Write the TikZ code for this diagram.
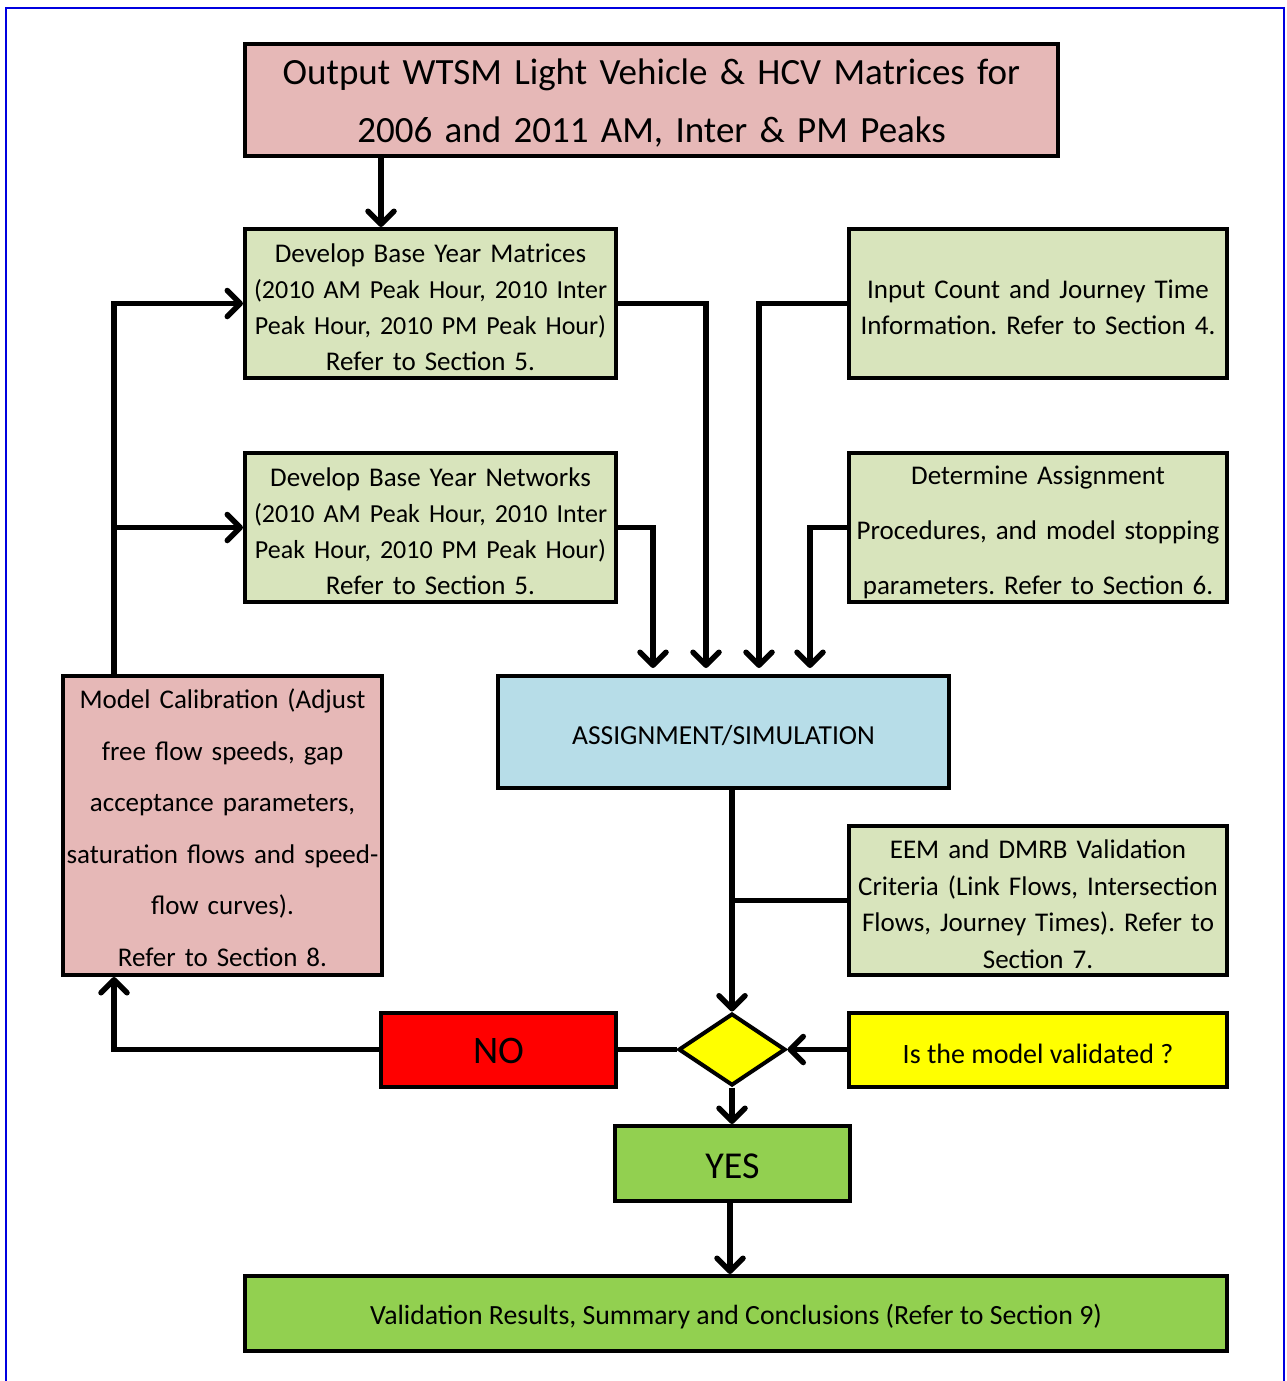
\documentclass[tikz,border=0pt]{standalone}
\usepackage{fontspec}
\setmainfont{Carlito}
\usetikzlibrary{arrows.meta,shapes.geometric}
\definecolor{pinkc}{HTML}{E6B8B7}
\definecolor{greenl}{HTML}{D8E4BC}
\definecolor{bluel}{HTML}{B7DDE8}
\definecolor{greenb}{HTML}{92D050}
\definecolor{yellowc}{HTML}{FFFF00}
\definecolor{redc}{HTML}{FF0000}
\definecolor{frameblue}{HTML}{0000E0}
\frenchspacing
\newcommand{\narrowline}[1]{{\fontsize{26}{36}\selectfont #1}}
\tikzset{
  box/.style={draw=black, line width=4pt, inner sep=0pt, align=center, anchor=center},
  bodyfont/.style={font=\fontsize{27}{36}\selectfont},
  conn/.style={line width=5.5pt, -{Straight Barb[length=13pt,width=26pt,round]}},
  plainline/.style={line width=5.5pt},
}
\begin{document}
\begin{tikzpicture}[x=1pt,y=-1pt]
\useasboundingbox (0,0) rectangle (1286,1381);
\draw[frameblue, line width=2.5pt] (6,1385) -- (6,8) -- (1284,8) -- (1284,1385);

% boxes
\node[box, fill=pinkc, minimum width=813pt, minimum height=112pt, text width=805pt, text height=31pt,
      font=\fontsize{37}{58}\selectfont] (title) at (651.5,100)
  {Output WTSM Light Vehicle \& HCV Matrices for\\2006 and 2011 AM, Inter \& PM Peaks};

\node[box, bodyfont, fill=greenl, minimum width=371pt, minimum height=149pt, text width=367pt, text height=26pt] (mat) at (430.5,303.5)
  {Develop Base Year Matrices\\\narrowline{(2010 AM Peak Hour, 2010 Inter}\\\narrowline{Peak Hour, 2010 PM Peak Hour)}\\Refer to Section 5.};

\node[box, bodyfont, fill=greenl, minimum width=371pt, minimum height=149pt, text width=367pt, text height=26pt] (net) at (430.5,527.5)
  {Develop Base Year Networks\\\narrowline{(2010 AM Peak Hour, 2010 Inter}\\\narrowline{Peak Hour, 2010 PM Peak Hour)}\\Refer to Section 5.};

\node[box, bodyfont, fill=greenl, minimum width=378pt, minimum height=149pt, text width=374pt, text height=26pt] (inp) at (1038,303.5)
  {Input Count and Journey Time\\Information. Refer to Section 4.};

\node[box, fill=greenl, minimum width=378pt, minimum height=149pt, text width=374pt, text height=29pt,
      font=\fontsize{27}{55}\selectfont] (det) at (1038,527.5)
  {Determine Assignment\\Procedures, and model stopping\\parameters. Refer to Section 6.};

\node[box, font=\fontsize{27.5}{36}\selectfont, fill=bluel, minimum width=451pt, minimum height=112pt, text height=26pt] (assign) at (723.5,732)
  {ASSIGNMENT/SIMULATION};

\node[box, fill=pinkc, minimum width=319pt, minimum height=299pt, text width=312pt, text height=24pt,
      font=\fontsize{27}{51.6}\selectfont] (calib) at (222.5,825.5)
  {Model Calibration (Adjust\\free flow speeds, gap\\acceptance parameters,\\saturation flows and speed-\\flow curves).\\Refer to Section 8.};

\node[box, fill=greenl, minimum width=378pt, minimum height=149pt, text width=374pt, text height=26pt,
      font=\fontsize{27}{36.7}\selectfont] (eem) at (1038,900.5)
  {EEM and DMRB Validation\\Criteria (Link Flows, Intersection\\Flows, Journey Times). Refer to\\Section 7.};

\node[box, shape=diamond, fill=yellowc, minimum width=107pt, minimum height=72pt] (dia) at (732,1049.5) {};

\node[box, fill=redc, minimum width=235pt, minimum height=74pt, text height=28pt, font=\fontsize{39}{44}\selectfont] (no) at (498.5,1049.5) {NO};

\node[box, font=\fontsize{28}{36}\selectfont, fill=yellowc, minimum width=378pt, minimum height=74pt, text height=28pt] (q) at (1038,1049.5) {Is the model validated ?};

\node[box, fill=greenb, minimum width=235pt, minimum height=75pt, text height=31pt, font=\fontsize{38}{44}\selectfont] (yes) at (732.5,1163.5) {YES};

\node[box, font=\fontsize{27.8}{36}\selectfont, fill=greenb, minimum width=982pt, minimum height=75pt, text height=27pt] (final) at (736,1313.5)
  {Validation Results, Summary and Conclusions (Refer to Section 9)};

% helper coordinates
\coordinate (tx) at (381,0);
\coordinate (loopx) at (114,0);
\coordinate (a1) at (653,668);
\coordinate (a2) at (706,668);
\coordinate (a3) at (759,668);
\coordinate (a4) at (810,668);

% connectors
\draw[conn] (title.south -| tx) -- (mat.north -| tx);
\draw[conn] (net.east) -| (a1);
\draw[conn] (mat.east) -| (a2);
\draw[conn] (inp.west) -| (a3);
\draw[conn] (det.west) -| (a4);
\draw[conn] (assign.south -| dia.north) -- (dia.north);
\draw[plainline] (eem.west) -- (eem.west -| dia.north);
\draw[conn] (q.west) -- (dia.east);
\draw[plainline] (dia.west) -- (no.east);
\draw[conn] (no.west) -| (calib.south -| loopx);
\draw[conn] (calib.north -| loopx) |- (mat.west);
\draw[conn] (loopx |- net.west) -- (net.west);
\draw[conn] (dia.south) -- (yes.north -| dia.south);
\draw[conn] (yes.south -| 730,0) -- (final.north -| 730,0);
\end{tikzpicture}
\end{document}
